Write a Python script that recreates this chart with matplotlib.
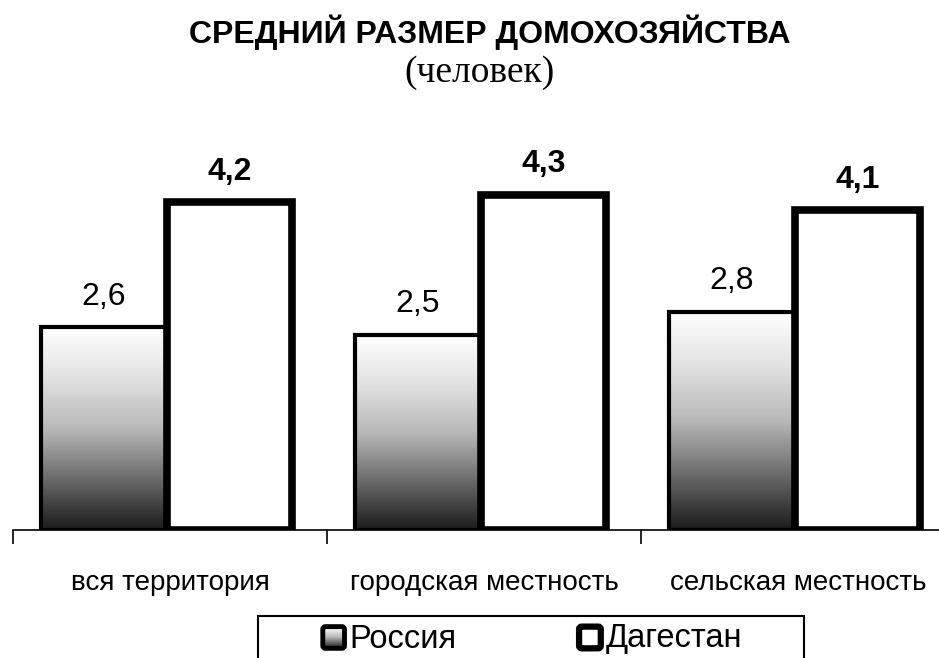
import numpy as np
import matplotlib
matplotlib.use('Agg')
from matplotlib import pyplot as plt
from matplotlib.patches import Rectangle, FancyBboxPatch
from matplotlib.legend_handler import HandlerBase
from matplotlib.colors import LinearSegmentedColormap
from matplotlib.image import BboxImage
from matplotlib.transforms import Bbox, TransformedBbox

plt.rcParams['font.family'] = ['Liberation Sans', 'DejaVu Sans']

categories = ["вся территория", "городская местность", "сельская местность"]
series_names = ["Россия", "Дагестан"]
russia = [2.6, 2.5, 2.8]
dagestan = [4.2, 4.3, 4.1]

title = "СРЕДНИЙ РАЗМЕР ДОМОХОЗЯЙСТВА"
subtitle = "(человек)"

# white at top, dark at the bottom
grad_cmap = LinearSegmentedColormap.from_list(
    "grad", [(0.0, "#1c1c1c"), (0.1, "#3a3a3a"), (0.25, "#6a6a6a"),
             (0.5, "#b8b8b8"), (0.75, "#e2e2e2"), (1.0, "#ffffff")])
grad = np.linspace(0, 1, 256).reshape(-1, 1)


class GradientHandler(HandlerBase):
    def create_artists(self, legend, orig_handle, xdescent, ydescent,
                       width, height, fontsize, trans):
        s = height * 0.95
        x0 = xdescent + width - s
        y0 = -ydescent + (height - s) / 2 - 1
        artists = []
        if orig_handle.get_label() == "grad":
            img = BboxImage(TransformedBbox(Bbox.from_bounds(x0, y0, s, s), trans),
                            cmap=grad_cmap, origin='lower')
            img.set_data(grad)
            artists.append(img)
            lw = 3.5
        else:
            lw = 4.5
        rect = FancyBboxPatch((x0, y0), s, s, boxstyle="round,pad=0,rounding_size=2",
                              facecolor='none', edgecolor='black', lw=lw,
                              transform=trans)
        artists.append(rect)
        return artists


fig = plt.figure(figsize=(9.39, 6.58), dpi=100)
ax = fig.add_axes([13 / 939, 1 - 530 / 658, 942 / 939, 390 / 658])

x = np.arange(len(categories))
w = 0.4
bars_r = ax.bar(x - 0.21, russia, w, facecolor='none', edgecolor='black',
                linewidth=3, zorder=3)
bars_d = ax.bar(x + 0.19, dagestan, w, facecolor='white', edgecolor='black',
                linewidth=5.5, zorder=3)

for b in bars_r:
    im = ax.imshow(grad, cmap=grad_cmap, origin='lower', aspect='auto',
                   extent=[b.get_x(), b.get_x() + b.get_width(), 0, b.get_height()],
                   zorder=2)
    im.set_clip_path(b)

for b, v in zip(bars_r, russia):
    ax.annotate(f"{v:.1f}".replace('.', ','), (b.get_x() + b.get_width() / 2, v),
                xytext=(0, 22), textcoords='offset points', ha='center',
                va='center', fontsize=23)
for b, v in zip(bars_d, dagestan):
    ax.annotate(f"{v:.1f}".replace('.', ','), (b.get_x() + b.get_width() / 2, v),
                xytext=(0, 22), textcoords='offset points', ha='center',
                va='center', fontsize=23, fontweight='bold')

ax.set_xlim(-0.5, 2.5)
ax.set_ylim(0, 5)
for s in ['top', 'right', 'left']:
    ax.spines[s].set_visible(False)
ax.spines['bottom'].set_linewidth(1.2)
ax.set_yticks([])
ax.set_xticks([-0.5, 0.5, 1.5, 2.5])
ax.set_xticklabels([])
ax.tick_params(axis='x', which='major', length=10, width=1.2, direction='out')
ax.set_xticks(x, minor=True)
ax.set_xticklabels(categories, minor=True, fontsize=20)
ax.tick_params(axis='x', which='minor', length=0, pad=29)
ax.patch.set_visible(False)

fig.text(490 / 939, 1 - 32 / 658, title, ha='center', va='center',
         fontsize=23, fontweight='bold')
fig.text(480 / 939, 1 - 73 / 658, subtitle, ha='center', va='center',
         fontsize=27, family='Liberation Serif')

# legend frame, cut by the bottom of the picture
fig.patches.append(Rectangle((258 / 939, -0.05), 546 / 939, 0.05 + 42 / 658,
                             transform=fig.transFigure, facecolor='none',
                             edgecolor='black', lw=1.5))
h_r = Rectangle((0, 0), 1, 1, label="grad")
h_d = Rectangle((0, 0), 1, 1, label="plain")
leg = fig.legend([h_r, h_d], series_names, ncol=2, loc='center left',
                 bbox_to_anchor=(321 / 939, 1 - 639 / 658),
                 fontsize=23.5, frameon=False,
                 handler_map={Rectangle: GradientHandler()},
                 handlelength=0.72, handletextpad=0.15, columnspacing=3.7,
                 borderpad=0, borderaxespad=0)

fig.savefig('out.png', dpi=100)
